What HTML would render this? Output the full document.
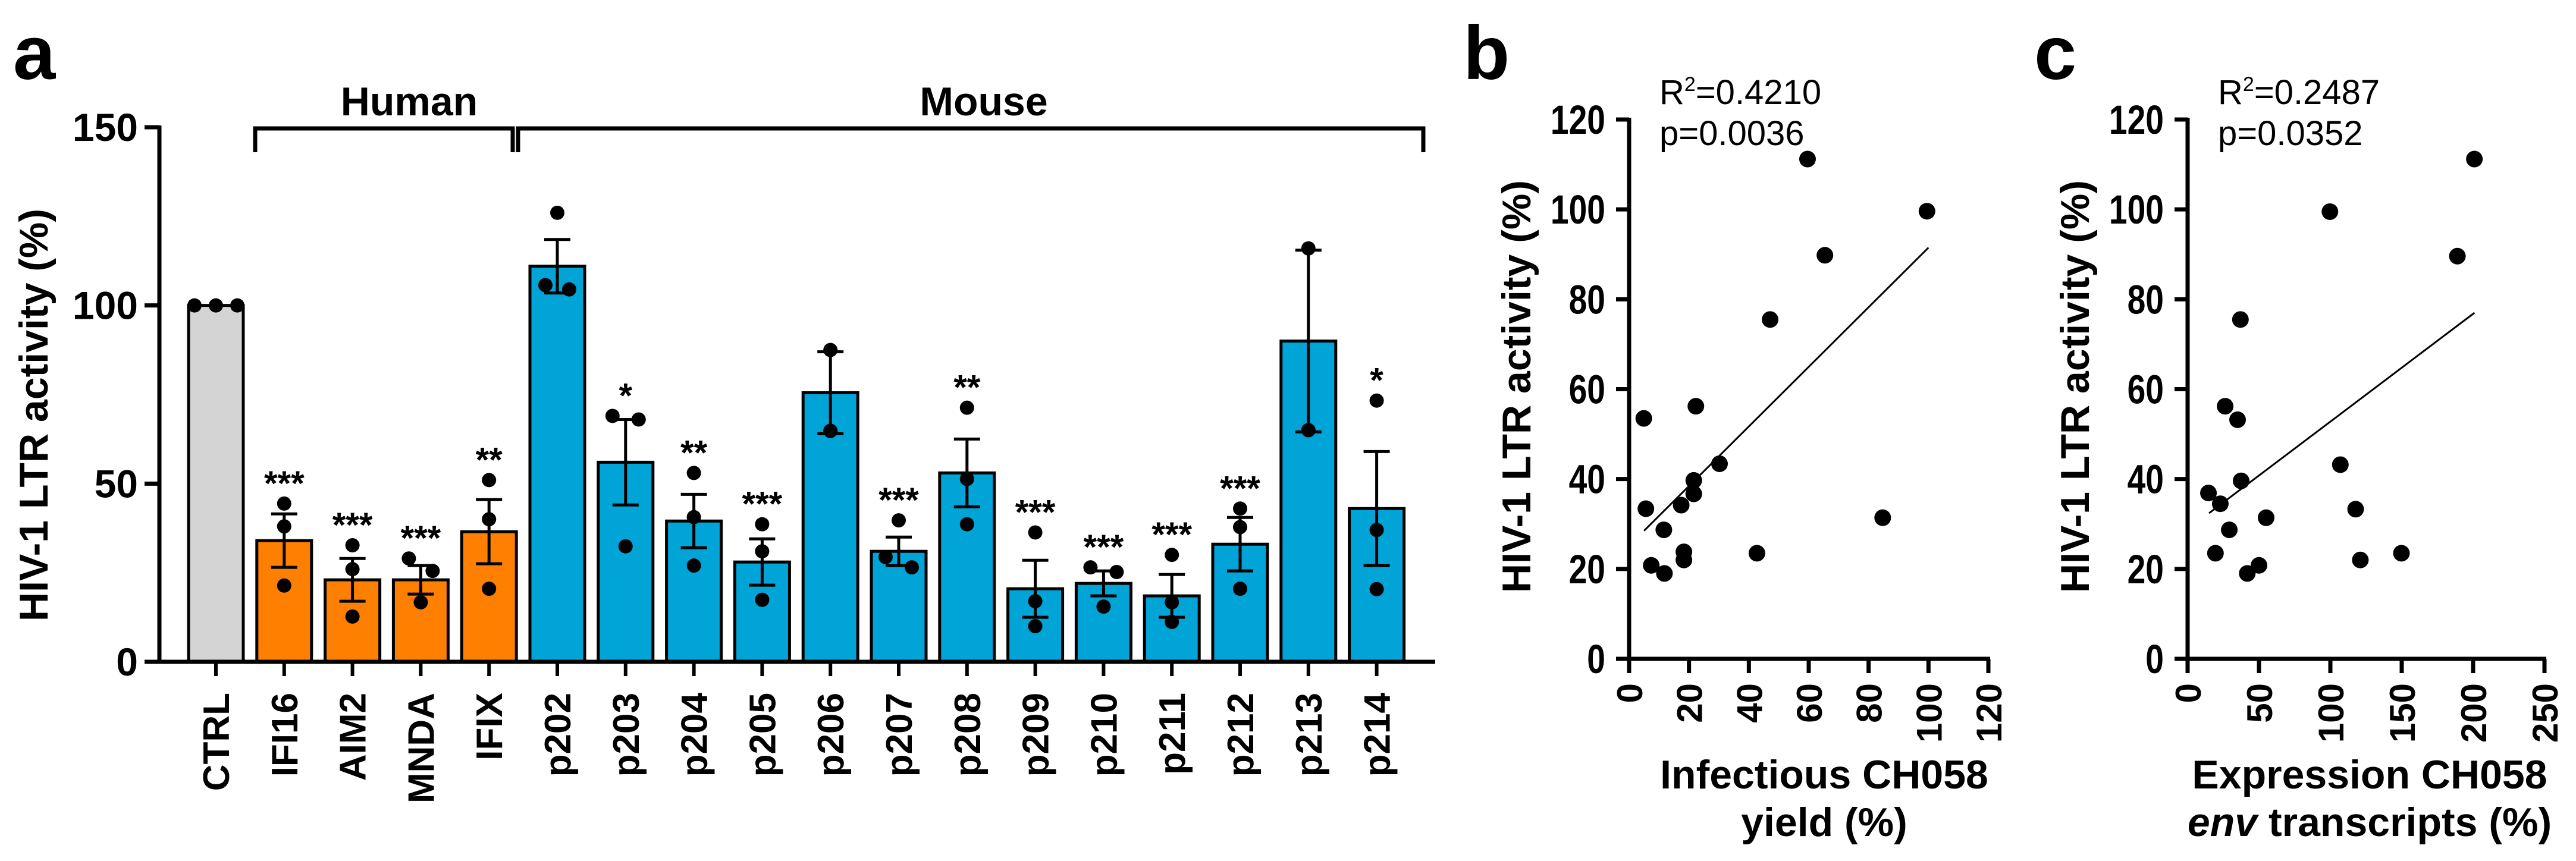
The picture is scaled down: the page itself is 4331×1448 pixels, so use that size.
<!DOCTYPE html>
<html><head><meta charset="utf-8">
<style>
html,body{margin:0;padding:0;background:#fff;}
svg{display:block;font-family:"Liberation Sans",Arial,sans-serif;}
</style></head>
<body>
<svg id="fig" width="4331" height="1448" viewBox="0 0 4331 1448" xmlns="http://www.w3.org/2000/svg">
<rect width="4331" height="1448" fill="#ffffff"/>
</svg>
<script>
// ---- Panel a data ----
const catsA = ["CTRL","IFI16","AIM2","MNDA","IFIX","p202","p203","p204","p205","p206","p207","p208","p209","p210","p211","p212","p213","p214"];
const groupA = ["ctrl","h","h","h","h","m","m","m","m","m","m","m","m","m","m","m","m","m"];
const meansA = [100,34,23,23,36.5,111,56,39.5,28,75.5,31,53,20.5,22,18.5,33,90,43];
const semA = [0,7.5,6,4,9,7.5,12,7.5,6.5,11.5,4,9.5,8,3.5,6,7.5,25.5,16];
const pointsA = [[100,100,100],[44.4,38,21.4],[32.7,26,12.7],[29,25.5,16.7],[51,40,20.5],[126,105.7,104.5],[69,68,32.4],[53,40.6,27],[38.6,31,17.4],[87.5,64.8,64.8],[39.7,29.4,26.5],[71.3,51.3,38.6],[36.3,17,10],[26.5,25.2,15.5],[30,16.7,11.2],[43,37.8,20.5],[116,65,65],[73.3,37,20.4]];
const pointsAxOff = [[-36,0,36],[0,0,0],[0,0,0],[-20,20,0],[0,0,0],[0,-20,20],[-22,22,0],[0,0,0],[0,0,0],[0,0,0],[0,-22,22],[0,0,0],[0,0,0],[-22,22,0],[0,0,0],[0,0,0],[0,0,0],[0,0,0]];
const starsA = ["","***","***","***","**","","*","**","***","","***","**","***","***","***","***","","*"];
const ticksA = [0,50,100,150];
// ---- Panel b data ----
const xB = [4.9,5.6,7.4,11.6,11.8,17.4,18.3,18.3,21.6,21.6,22.3,30.2,42.7,47.1,59.6,65.4,84.7,99.5];
const yB = [53.5,33.4,20.8,28.7,19,34.2,23.8,22,39.7,36.7,56.2,43.4,23.5,75.5,111.2,89.8,31.4,99.6];
const fitBx = [5,100];
const fitBy = [28.5,91.5];
const xticksB = [0,20,40,60,80,100,120];
const yticksBC = [0,20,40,60,80,100,120];
// ---- Panel c data ----
const xC = [14.6,19.5,22.9,26.3,29.2,35,37,37.5,41.8,50,55,99.7,107,117.7,121,149.8,189,200.9];
const yC = [36.9,23.5,34.5,56.2,28.7,53.2,75.5,39.6,19,20.8,31.4,99.5,43.2,33.3,22,23.5,89.6,111.2];
const fitCx = [15,201];
const fitCy = [32.4,77];
const xticksC = [0,50,100,150,200,250];

const NS="http://www.w3.org/2000/svg";
const svg=document.getElementById('fig');
function el(tag,attrs,parent,text){const e=document.createElementNS(NS,tag);for(const k in attrs)e.setAttribute(k,attrs[k]);if(text!==undefined)e.textContent=text;(parent||svg).appendChild(e);return e;}

// ===== Panel a =====
const gA=el('g',{});


const A={x0:268,xEnd:2413,y0:1113,y150:214,cx0:363,step:114.8,bw:92};
const yA=v=>A.y0-(v/150)*(A.y0-A.y150);
const xA=i=>A.cx0+i*A.step;
const colors={ctrl:"#d4d4d4",h:"#ff8000",m:"#00a4d6"};

let t=el('text',{x:22,y:133,'font-size':128,'font-weight':'bold'},gA,'a');



catsA.forEach((c,i)=>{
  const cx=xA(i);
  const r=el('rect',{x:cx-A.bw/2,y:yA(meansA[i]),width:A.bw,height:A.y0-yA(meansA[i]),fill:colors[groupA[i]],stroke:'#000','stroke-width':5},gA);
  
  
  if(semA[i]>0){
    const eg=el('g',{stroke:'#000','stroke-width':5},gA);
    
    
    el('line',{x1:cx,x2:cx,y1:yA(meansA[i]-semA[i]),y2:yA(meansA[i]+semA[i])},eg);
    el('line',{x1:cx-22,x2:cx+22,y1:yA(meansA[i]+semA[i]),y2:yA(meansA[i]+semA[i])},eg);
    el('line',{x1:cx-22,x2:cx+22,y1:yA(meansA[i]-semA[i]),y2:yA(meansA[i]-semA[i])},eg);
  }
  pointsA[i].forEach((v,j)=>{
    const d=el('circle',{cx:cx+pointsAxOff[i][j],cy:yA(v),r:12,fill:'#000'},gA);
    
    
  });
  if(starsA[i]){
    const top=Math.max(meansA[i]+semA[i],...pointsA[i]);
    const s=el('text',{x:cx,y:yA(top)-14,'font-size':58,'font-weight':'bold','text-anchor':'middle'},gA,starsA[i]);
    
    
  }
  const tk=el('line',{x1:cx,x2:cx,y1:A.y0,y2:1137,stroke:'#000','stroke-width':6},gA);
  
  
  const lb=el('text',{x:0,y:0,'font-size':62,'font-weight':'bold','text-anchor':'end',transform:`translate(${cx+22},1165) rotate(-90)`},gA,c);
  
  
});
// axes
let ax=el('line',{x1:A.x0,x2:A.x0,y1:A.y150-3,y2:A.y0+3,stroke:'#000','stroke-width':7},gA);


ax=el('line',{x1:A.x0-25,x2:A.xEnd,y1:A.y0,y2:A.y0,stroke:'#000','stroke-width':7},gA);


ticksA.forEach(v=>{
  const l=el('line',{x1:A.x0-25,x2:A.x0,y1:yA(v),y2:yA(v),stroke:'#000','stroke-width':7},gA);
  
  
  const tx=el('text',{x:232,y:yA(v)+23,'font-size':66,'font-weight':'bold','text-anchor':'end'},gA,String(v));
  
  
});
t=el('text',{x:0,y:0,'font-size':68,'font-weight':'bold','text-anchor':'middle',transform:'translate(80,698) rotate(-90)'},gA,'HIV-1 LTR activity (%)');


// brackets
let br=el('path',{d:'M429,256 V216 H862 V256',fill:'none',stroke:'#000','stroke-width':7},gA);


br=el('path',{d:'M871,256 V216 H2393 V256',fill:'none',stroke:'#000','stroke-width':7},gA);


t=el('text',{x:688,y:194,'font-size':68,'font-weight':'bold','text-anchor':'middle'},gA,'Human');


t=el('text',{x:1654,y:194,'font-size':68,'font-weight':'bold','text-anchor':'middle'},gA,'Mouse');



// ===== Scatter panels =====
function scatter(opt){
  const g=el('g',{});
  
  
  const sx=v=>opt.x0+(v/opt.xmax)*(opt.x1-opt.x0);
  const sy=v=>1108-(v/120)*(1108-201);
  let l=el('text',{x:opt.lx,y:133,'font-size':128,'font-weight':'bold'},g,opt.letter);
  
  
  let a=el('line',{x1:opt.x0,x2:opt.x0,y1:198,y2:1111,stroke:'#000','stroke-width':7},g);
  
  
  a=el('line',{x1:opt.x0-22,x2:opt.x1+3,y1:1108,y2:1108,stroke:'#000','stroke-width':7},g);
  
  
  yticksBC.forEach(v=>{
    const tk=el('line',{x1:opt.x0-22,x2:opt.x0,y1:sy(v),y2:sy(v),stroke:'#000','stroke-width':7},g);
    
    
    const tx=el('text',{x:0,y:0,'font-size':60,'font-weight':'bold','text-anchor':'end',transform:`translate(${opt.x0-40},${sy(v)+24}) scale(0.92,1.15)`},g,String(v));
    
    
  });
  opt.xticks.forEach(v=>{
    const tk=el('line',{x1:sx(v),x2:sx(v),y1:1108,y2:1132,stroke:'#000','stroke-width':7},g);
    
    
    const tx=el('text',{x:0,y:0,'font-size':60,'font-weight':'bold','text-anchor':'end',transform:`translate(${sx(v)+22},1149) rotate(-90)`},g,String(v));
    
    
  });
  const f=el('line',{x1:sx(opt.fx[0]),y1:sy(opt.fy[0]),x2:sx(opt.fx[1]),y2:sy(opt.fy[1]),stroke:'#000','stroke-width':3},g);
  
  
  opt.xs.forEach((v,i)=>{
    const d=el('circle',{cx:sx(v),cy:sy(opt.ys[i]),r:14,fill:'#000'},g);
    
    
  });
  const s1=el('text',{x:opt.x0+51,y:175,'font-size':58},g);
  
  
  el('tspan',{},s1,'R');
  el('tspan',{dy:-22,'font-size':34},s1,'2');
  el('tspan',{dy:22},s1,'='+opt.r2);
  const s2=el('text',{x:opt.x0+51,y:244,'font-size':58},g,'p='+opt.p);
  
  
  const yt=el('text',{x:0,y:0,'font-size':68,'font-weight':'bold','text-anchor':'middle',transform:`translate(${opt.x0-166},650) rotate(-90)`},g,'HIV-1 LTR activity (%)');
  
  
  const t1=el('text',{x:opt.tcx,y:1326,'font-size':68,'font-weight':'bold','text-anchor':'middle'},g);
  
  
  t1.textContent=opt.t1;
  const t2=el('text',{x:opt.tcx,y:1406,'font-size':68,'font-weight':'bold','text-anchor':'middle'},g);
  
  
  opt.t2(t2);
}
scatter({name:'panel-b',letter:'b',lx:2460,x0:2739,x1:3343,xmax:120,xs:xB,ys:yB,fx:fitBx,fy:fitBy,xticks:xticksB,r2:'0.4210',p:'0.0036',tcx:3067,t1:'Infectious CH058',t2:e=>{e.textContent='yield (%)';}});
scatter({name:'panel-c',letter:'c',lx:3420,x0:3678,x1:4278,xmax:250,xs:xC,ys:yC,fx:fitCx,fy:fitCy,xticks:xticksC,r2:'0.2487',p:'0.0352',tcx:3984,t1:'Expression CH058',t2:e=>{el('tspan',{'font-style':'italic'},e,'env');el('tspan',{},e,' transcripts (%)');}});
</script>
</body></html>
